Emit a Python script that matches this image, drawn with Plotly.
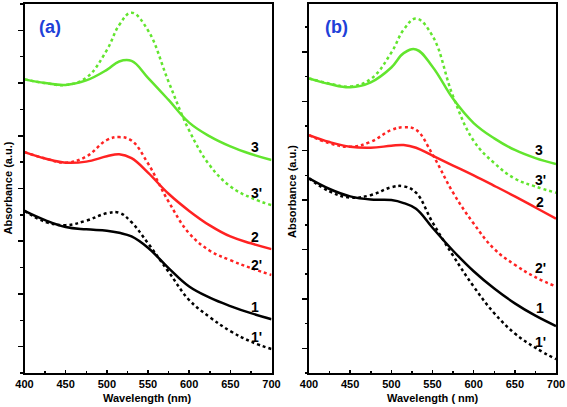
import plotly.graph_objects as go

# Wavelength grid (nm)
wavelength = [400, 425, 450, 475, 500, 515, 530, 550, 575, 600, 625, 650, 675, 700]

# Panel (a) absorbance (a.u., offset traces)
a_1 = [6.15, 5.80, 5.54, 5.45, 5.40, 5.32, 5.18, 4.75, 3.98, 3.28, 2.86, 2.54, 2.27, 2.04]
a_1p = [6.15, 5.74, 5.61, 5.78, 6.06, 6.08, 5.72, 4.92, 3.84, 2.77, 2.12, 1.59, 1.19, 0.91]
a_2 = [8.38, 8.14, 7.98, 8.02, 8.22, 8.30, 8.15, 7.60, 6.80, 6.15, 5.60, 5.18, 4.92, 4.70]
a_2p = [8.38, 8.14, 7.98, 8.21, 8.84, 8.95, 8.82, 7.95, 6.50, 5.30, 4.64, 4.28, 3.98, 3.72]
a_3 = [11.14, 11.00, 10.93, 11.10, 11.50, 11.82, 11.84, 11.20, 10.36, 9.50, 8.98, 8.60, 8.31, 8.08]
a_3p = [11.14, 11.00, 10.93, 11.20, 12.25, 13.20, 13.67, 13.00, 11.05, 9.20, 7.88, 7.08, 6.65, 6.37]

# Panel (b) absorbance (a.u., offset traces)
b_1 = [7.88, 7.45, 7.15, 7.02, 7.00, 6.88, 6.65, 5.88, 4.95, 4.12, 3.42, 2.82, 2.32, 1.90]
b_1p = [7.88, 7.35, 7.10, 7.20, 7.52, 7.56, 7.30, 6.10, 4.75, 3.50, 2.42, 1.60, 1.02, 0.56]
b_2 = [9.63, 9.35, 9.16, 9.12, 9.20, 9.23, 9.12, 8.80, 8.40, 8.00, 7.58, 7.15, 6.70, 6.25]
b_2p = [9.63, 9.30, 9.16, 9.36, 9.84, 9.95, 9.85, 8.85, 7.30, 6.05, 5.02, 4.38, 3.88, 3.50]
b_3 = [11.93, 11.70, 11.57, 11.77, 12.37, 12.95, 13.10, 12.40, 11.10, 10.12, 9.50, 9.03, 8.70, 8.46]
b_3p = [11.93, 11.72, 11.60, 11.90, 12.97, 13.90, 14.35, 13.65, 11.20, 9.40, 8.50, 7.87, 7.55, 7.30]

# Curve labels: (text, wavelength, value)
labels_a = [("3", 680, 8.57), ("3'", 682, 6.83), ("2", 680, 5.16),
            ("2'", 682, 4.10), ("1", 680, 2.50), ("1'", 682, 1.37)]
labels_b = [("3", 679, 9.03), ("3'", 681, 7.81), ("2", 680, 6.94),
            ("2'", 681, 4.24), ("1", 680, 2.62), ("1'", 681, 1.27)]

GREEN = "#62E52E"
RED = "#FF2222"
BLACK = "#000000"
BLUE = "#2040D8"
FONT = "Liberation Sans, Arial, sans-serif"

W, H = 567, 407

fig = go.Figure()

def add(series, color, dotted, xa, ya):
    fig.add_trace(go.Scatter(
        x=wavelength, y=series, mode="lines",
        line=dict(color=color, width=2.5, dash="dot" if dotted else "solid",
                  shape="spline", smoothing=1.15),
        xaxis=xa, yaxis=ya, showlegend=False, hoverinfo="skip"))

for s, c, d in [(a_3p, GREEN, True), (a_3, GREEN, False), (a_2p, RED, True),
                (a_2, RED, False), (a_1p, BLACK, True), (a_1, BLACK, False)]:
    add(s, c, d, "x", "y")
for s, c, d in [(b_3p, GREEN, True), (b_3, GREEN, False), (b_2p, RED, True),
                (b_2, RED, False), (b_1p, BLACK, True), (b_1, BLACK, False)]:
    add(s, c, d, "x2", "y2")

xcommon = dict(range=[400, 700], dtick=50, tick0=400, ticks="inside", ticklen=3,
               tickwidth=1.5, tickcolor="black",
               minor=dict(ticks="inside", dtick=25, ticklen=2, tickwidth=1.5, tickcolor="black"),
               showline=True, linewidth=2, linecolor="black", mirror=True,
               showgrid=False, zeroline=False, automargin=False,
               tickfont=dict(family=FONT, size=11, color="black", weight="bold"))
ycommon = dict(tick0=1, dtick=2, ticks="outside", ticklen=5, tickwidth=1.5, tickcolor="black",
               minor=dict(ticks="outside", dtick=1, tick0=0, ticklen=2.5, tickwidth=1.5, tickcolor="black"),
               showticklabels=False, showline=True, linewidth=2, linecolor="black",
               mirror=True, showgrid=False, zeroline=False, automargin=False)

ybot = 1 - 373 / H
ytop = 1 - 4 / H
fig.update_layout(
    width=W, height=H, autosize=False,
    margin=dict(l=0, r=0, t=0, b=0, pad=0),
    plot_bgcolor="white", paper_bgcolor="white",
    xaxis=dict(domain=[24.5 / W, 271.5 / W], anchor="y", **xcommon),
    yaxis=dict(domain=[ybot, ytop], range=[0, 14], anchor="x", **ycommon),
    xaxis2=dict(domain=[309 / W, 556 / W], anchor="y2", **xcommon),
    yaxis2=dict(domain=[ybot, ytop], range=[0, 14.94], anchor="x2", **ycommon),
)

lfont = dict(family=FONT, size=14, color="black", weight="bold")
ann = []
for t, x, y in labels_a:
    ann.append(dict(text=t, x=x, y=y, xref="x", yref="y", showarrow=False, font=lfont,
                    xanchor="center", yanchor="middle"))
for t, x, y in labels_b:
    ann.append(dict(text=t, x=x, y=y, xref="x2", yref="y2", showarrow=False, font=lfont,
                    xanchor="center", yanchor="middle"))

def pann(text, px, py, font, angle=0):
    ann.append(dict(text=text, x=px / W, y=1 - py / H, xref="paper", yref="paper",
                    xanchor="center", yanchor="middle", showarrow=False,
                    textangle=angle, font=font))

# panel tags
tagfont = dict(family=FONT, size=18, color=BLUE, weight="bold")
pann("(a)", 50, 27.5, tagfont)
pann("(b)", 336.5, 27.5, tagfont)

# axis titles
tfont = dict(family=FONT, size=11, color="black", weight="bold")
pann("Wavelength (nm)", 147.5, 398, tfont)
pann("Wavelength ( nm)", 432.5, 398, tfont)
pann("Absorbance (a.u.)", 7.5, 188, tfont, -90)
pann("Absorbance (a.u.)", 292, 192, tfont, -90)

fig.update_layout(annotations=ann)

fig.write_html("out.html",
               config={"displayModeBar": False, "responsive": False, "staticPlot": True},
               post_script="document.body.style.margin='0';document.body.style.overflow='hidden';")
